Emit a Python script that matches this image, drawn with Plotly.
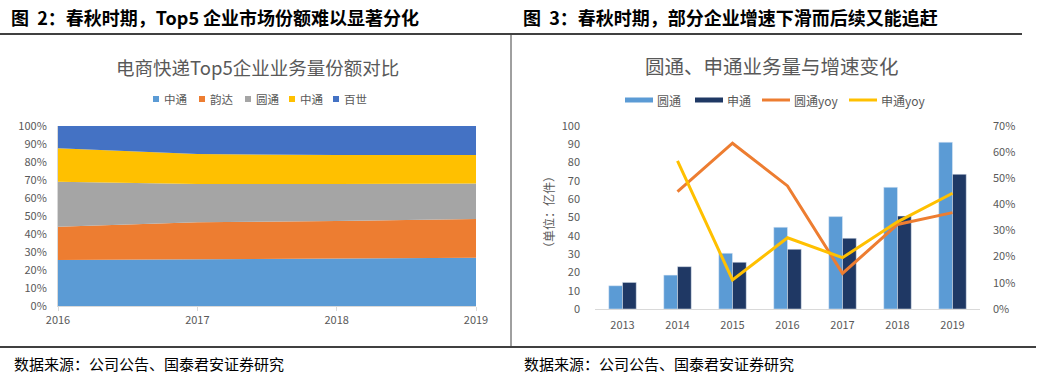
import plotly.graph_objects as go

W, H = 1041, 377

# ---------------- data ----------------
share_years = [2016, 2017, 2018, 2019]
share_names = ["中通", "韵达", "圆通", "中通", "百世"]
share_colors = ["#5B9BD5", "#ED7D31", "#A5A5A5", "#FFC000", "#4472C4"]
share_zto = [0.256, 0.260, 0.260, 0.268]
share_yunda = [0.184, 0.205, 0.212, 0.215]
share_yto = [0.250, 0.213, 0.206, 0.198]
share_sto = [0.186, 0.166, 0.161, 0.158]
share_best = [0.124, 0.156, 0.161, 0.161]

vol_years = ["2013", "2014", "2015", "2016", "2017", "2018", "2019"]
vol_yto = [12.7, 18.5, 30.4, 44.6, 50.4, 66.4, 91.0]
vol_sto = [14.5, 23.1, 25.5, 32.6, 38.6, 50.7, 73.5]
yoy_years = ["2014", "2015", "2016", "2017", "2018", "2019"]
yoy_yto = [0.448, 0.633, 0.470, 0.136, 0.323, 0.368]
yoy_sto = [0.566, 0.111, 0.272, 0.196, 0.333, 0.442]

FONT = "Noto Sans CJK SC"
GRAY = "#595959"


def px(x):
    return x / W


def py(y):
    return 1 - y / H


fig = go.Figure()

# ---------------- left chart: stacked areas ----------------
share_series = [share_zto, share_yunda, share_yto, share_sto, share_best]
for name, col, vals in zip(share_names, share_colors, share_series):
    fig.add_trace(go.Scatter(
        x=share_years, y=vals, name=name, mode="lines",
        line=dict(width=0, color=col), fillcolor=col,
        stackgroup="one", showlegend=False, hoverinfo="skip",
        xaxis="x", yaxis="y"))

# ---------------- right chart: bars + lines ----------------
fig.add_trace(go.Bar(x=vol_years, y=vol_yto, name="圆通", marker_color="#5B9BD5",
                     xaxis="x2", yaxis="y2", showlegend=False))
fig.add_trace(go.Bar(x=vol_years, y=vol_sto, name="申通", marker_color="#1F3864",
                     xaxis="x2", yaxis="y2", showlegend=False))
fig.add_trace(go.Scatter(x=yoy_years, y=yoy_yto, name="圆通yoy", mode="lines",
                         line=dict(color="#ED7D31", width=3),
                         xaxis="x2", yaxis="y3", showlegend=False))
fig.add_trace(go.Scatter(x=yoy_years, y=yoy_sto, name="申通yoy", mode="lines",
                         line=dict(color="#FFC000", width=3),
                         xaxis="x2", yaxis="y3", showlegend=False))

tickfont = dict(family=FONT, size=11, color=GRAY)

fig.update_layout(
    width=W, height=H,
    margin=dict(l=0, r=0, t=0, b=0, pad=0),
    paper_bgcolor="white", plot_bgcolor="white",
    showlegend=False,
    barmode="group", bargap=0.5, bargroupgap=0,
    xaxis=dict(domain=[px(58), px(476)], range=[2016, 2019],
               tickvals=share_years, ticktext=[str(y) for y in share_years],
               showgrid=False, zeroline=False, showline=True, linecolor="#D9D9D9",
               ticks="outside", ticklen=4, tickcolor="#D9D9D9",
               tickfont=tickfont, anchor="y", automargin=False),
    yaxis=dict(domain=[py(306), py(126)], range=[0, 1], dtick=0.1, tickformat=".0%",
               showgrid=False, zeroline=False, showline=True, linecolor="#D9D9D9",
               ticklabelstandoff=8, tickfont=tickfont, anchor="x", automargin=False),
    xaxis2=dict(domain=[px(595), px(980)], type="category",
                showgrid=False, zeroline=False, showline=True, linecolor="#D9D9D9",
                tickfont=tickfont, anchor="y2", ticklabelstandoff=6, automargin=False),
    yaxis2=dict(domain=[py(309), py(125.7)], range=[0, 100], dtick=10,
                showgrid=False, zeroline=False, showline=False,
                ticklabelstandoff=14, tickfont=tickfont, anchor="x2", automargin=False),
    yaxis3=dict(domain=[py(309), py(125.7)], range=[0, 0.7], dtick=0.1, tickformat=".0%",
                overlaying="y2", side="right", anchor="x2",
                showgrid=False, zeroline=False, showline=False,
                ticklabelstandoff=12, tickfont=tickfont, automargin=False),
)

shapes = []
annotations = []

# frame lines
shapes.append(dict(type="line", xref="paper", yref="paper", x0=0, x1=px(1022), y0=py(34), y1=py(34),
                   line=dict(color="#000000", width=1.5)))
shapes.append(dict(type="line", xref="paper", yref="paper", x0=0, x1=px(1036), y0=py(347), y1=py(347),
                   line=dict(color="#000000", width=1.5)))
shapes.append(dict(type="line", xref="paper", yref="paper", x0=px(511), x1=px(511), y0=py(35), y1=py(347),
                   line=dict(color="#404040", width=1)))

# headers
annotations.append(dict(text="<b>图  2：春秋时期，Top5 企业市场份额难以显著分化</b>", x=px(9), y=py(17),
                        xref="paper", yref="paper", xanchor="left", yanchor="middle", showarrow=False,
                        font=dict(family=FONT, size=18, color="#000000")))
annotations.append(dict(text="<b>图  3：春秋时期，部分企业增速下滑而后续又能追赶</b>", x=px(521), y=py(17),
                        xref="paper", yref="paper", xanchor="left", yanchor="middle", showarrow=False,
                        font=dict(family=FONT, size=18, color="#000000")))
# chart titles
annotations.append(dict(text="电商快递Top5企业业务量份额对比", x=px(257), y=py(67),
                        xref="paper", yref="paper", xanchor="center", yanchor="middle", showarrow=False,
                        font=dict(family=FONT, size=18.5, color=GRAY)))
annotations.append(dict(text="圆通、申通业务量与增速变化", x=px(772), y=py(65),
                        xref="paper", yref="paper", xanchor="center", yanchor="middle", showarrow=False,
                        font=dict(family=FONT, size=19.5, color=GRAY)))
# sources
for sx in (12, 522):
    annotations.append(dict(text="数据来源：公司公告、国泰君安证券研究", x=px(sx), y=py(363),
                            xref="paper", yref="paper", xanchor="left", yanchor="middle", showarrow=False,
                            font=dict(family=FONT, size=15, color="#000000")))
# right y axis title
annotations.append(dict(text="（单位：亿件）", x=px(548), y=py(212), textangle=-90,
                        xref="paper", yref="paper", xanchor="center", yanchor="middle", showarrow=False,
                        font=dict(family=FONT, size=12, color=GRAY)))

# left legend (manual)
leg_sq_x = [153, 199, 245, 289, 333]
for lx, name, col in zip(leg_sq_x, share_names, share_colors):
    shapes.append(dict(type="rect", xref="paper", yref="paper", x0=px(lx), x1=px(lx + 6),
                       y0=py(102), y1=py(96), fillcolor=col, line=dict(width=0)))
    annotations.append(dict(text=name, x=px(lx + 9), y=py(99), xref="paper", yref="paper",
                            xanchor="left", yanchor="middle", showarrow=False,
                            font=dict(family=FONT, size=11.5, color=GRAY)))

# right legend (manual)
leg_items = [("圆通", "#5B9BD5", 625, 5), ("申通", "#1F3864", 695, 5),
             ("圆通yoy", "#ED7D31", 762, 3), ("申通yoy", "#FFC000", 849, 3)]
for name, col, lx, th in leg_items:
    shapes.append(dict(type="rect", xref="paper", yref="paper", x0=px(lx), x1=px(lx + 28),
                       y0=py(100 + th / 2), y1=py(100 - th / 2), fillcolor=col, line=dict(width=0)))
    annotations.append(dict(text=name, x=px(lx + 30), y=py(100), xref="paper", yref="paper",
                            xanchor="left", yanchor="middle", showarrow=False,
                            font=dict(family=FONT, size=12, color=GRAY)))

fig.update_layout(shapes=shapes, annotations=annotations)
fig.write_html("out.html", config={"displayModeBar": False},
               post_script="document.body.style.margin='0';document.body.style.padding='0';")
